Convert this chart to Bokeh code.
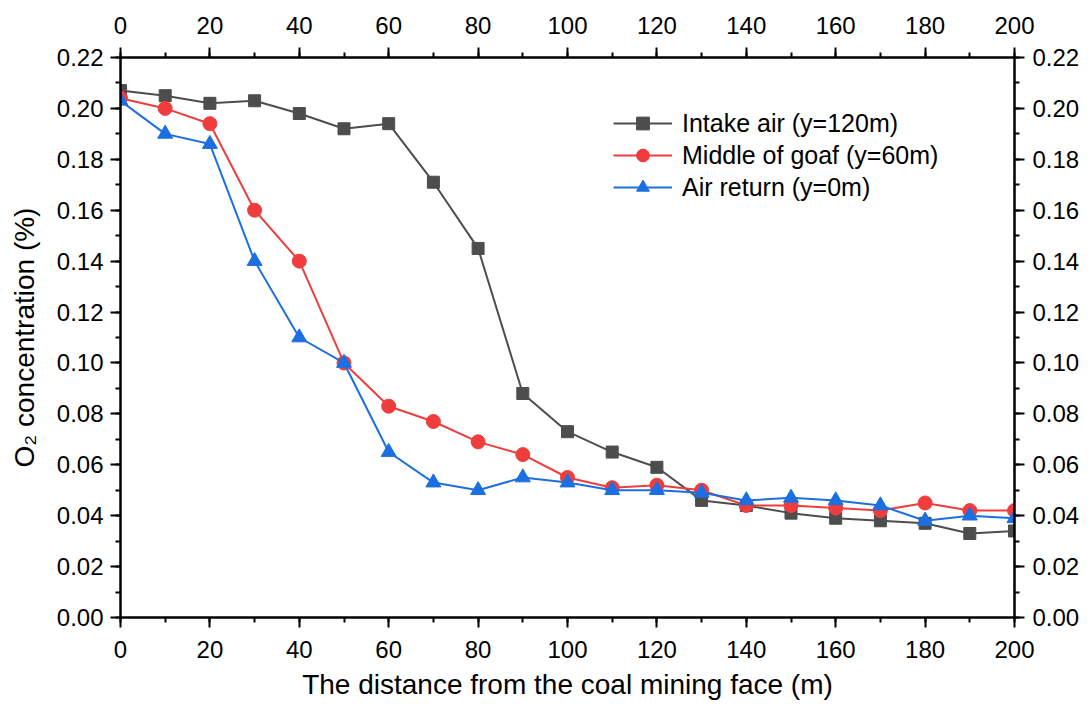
from bokeh.plotting import figure
from bokeh.models import (LinearAxis, SingleIntervalTicker, PrintfTickFormatter,
                          Range1d, Legend, LegendItem)
from bokeh.embed import file_html
from bokeh.resources import INLINE

distance = [0, 10, 20, 30, 40, 50, 60, 70, 80, 90, 100, 110, 120, 130, 140, 150, 160, 170, 180, 190, 200]
intake_air = [0.207, 0.205, 0.202, 0.203, 0.198, 0.192, 0.194, 0.171, 0.145, 0.088, 0.073,
              0.065, 0.059, 0.046, 0.044, 0.041, 0.039, 0.038, 0.037, 0.033, 0.034]
middle_goaf = [0.204, 0.200, 0.194, 0.160, 0.140, 0.100, 0.083, 0.077, 0.069, 0.064, 0.055,
               0.051, 0.052, 0.050, 0.044, 0.044, 0.043, 0.042, 0.045, 0.042, 0.042]
air_return = [0.203, 0.190, 0.186, 0.140, 0.110, 0.100, 0.065, 0.053, 0.050, 0.055, 0.053,
              0.050, 0.050, 0.049, 0.046, 0.047, 0.046, 0.044, 0.038, 0.040, 0.039]

labels = ["Intake air (y=120m)", "Middle of goaf (y=60m)", "Air return (y=0m)"]
colors = ["#4d4d4d", "#ef3d3d", "#1c6fe0"]
markers = ["square", "circle", "triangle"]
sizes = [12, 14, 15]

FONT = "Liberation Sans"

p = figure(width=1082, height=704, output_backend="svg", toolbar_location=None,
           x_range=Range1d(0, 200), y_range=Range1d(0, 0.22),
           min_border_left=120, min_border_right=68, min_border_top=57, min_border_bottom=87,
           x_axis_location=None, y_axis_location=None)
p.xgrid.visible = False
p.ygrid.visible = False
p.outline_line_color = None
p.background_fill_color = "white"
p.border_fill_color = "white"

def style_axis(ax, standoff):
    ax.axis_line_width = 2.5
    ax.axis_line_color = "black"
    ax.major_tick_line_width = 2
    ax.minor_tick_line_width = 2
    ax.major_tick_line_color = "black"
    ax.minor_tick_line_color = "black"
    ax.major_tick_out = 10
    ax.major_tick_in = 0
    ax.minor_tick_out = 5
    ax.minor_tick_in = 0
    ax.major_label_text_font = FONT
    ax.major_label_text_font_size = "24px"
    ax.major_label_text_color = "black"
    ax.major_label_standoff = standoff
    ax.axis_label_text_font = FONT
    ax.axis_label_text_font_size = "28px"
    ax.axis_label_text_font_style = "normal"
    ax.axis_label_text_color = "black"

xt = SingleIntervalTicker(interval=20, num_minor_ticks=2)
yt = SingleIntervalTicker(interval=0.02, num_minor_ticks=2)
yf = PrintfTickFormatter(format="%.2f")

bottom = LinearAxis(ticker=xt, axis_label="The distance from the coal mining face (m)")
style_axis(bottom, 13)
bottom.axis_label_standoff = 8
p.add_layout(bottom, "below")

top = LinearAxis(ticker=xt)
style_axis(top, 14)
p.add_layout(top, "above")

left = LinearAxis(ticker=yt, formatter=yf, axis_label="O\u2082 concentration (%)")
style_axis(left, 7)
left.axis_label_standoff = 14
p.add_layout(left, "left")

right = LinearAxis(ticker=yt, formatter=yf)
style_axis(right, 8)
p.add_layout(right, "right")

series = [intake_air, middle_goaf, air_return]
items = []
for vals, lab, col, mk, sz in zip(series, labels, colors, markers, sizes):
    ln = p.line(distance, vals, line_color=col, line_width=2)
    sc = p.scatter(distance, vals, marker=mk, size=sz, fill_color=col, line_color=col)
    items.append(LegendItem(label=lab, renderers=[ln, sc]))

legend = Legend(items=items, location=(493, 414), padding=0, margin=0,
                border_line_color=None, background_fill_alpha=0,
                label_text_font=FONT, label_text_font_size="25px",
                label_text_color="black", glyph_width=59, glyph_height=32,
                label_height=32, spacing=0, label_standoff=10)
p.add_layout(legend, "center")

open("out.html", "w").write(file_html(p, INLINE))
